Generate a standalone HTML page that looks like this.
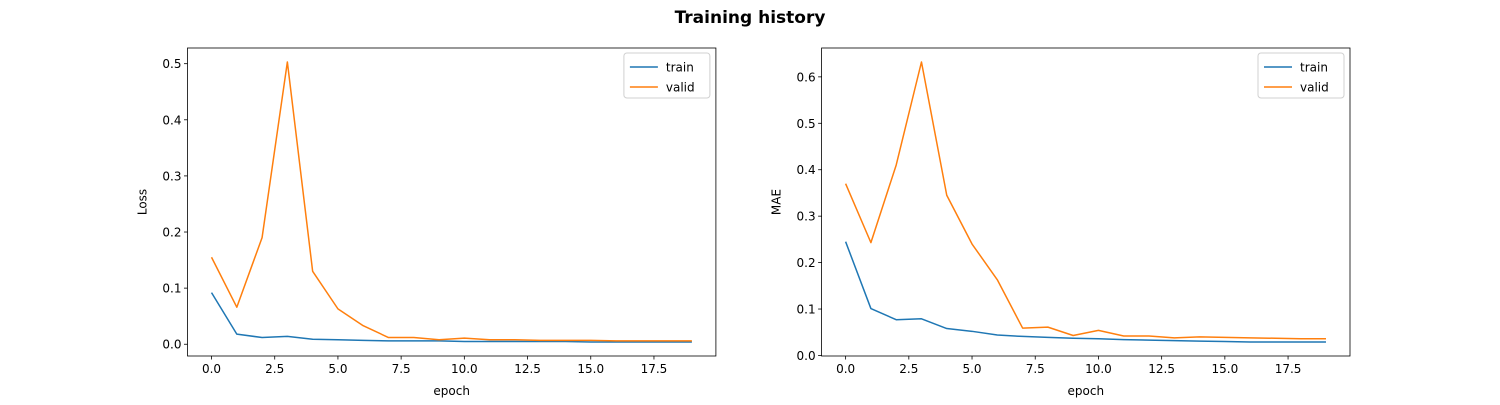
<!DOCTYPE html>
<html><head><meta charset="utf-8"><style>
body{margin:0;background:#fff;font-family:"Liberation Sans","DejaVu Sans",sans-serif}
svg text{font-family:"DejaVu Sans","Liberation Sans",sans-serif;font-size:12px;fill:#000}
</style></head><body>
<svg id="c" width="1500" height="400">
<text x="750" y="23" text-anchor="middle" style="font-size:17px;font-weight:bold">Training history</text>
</svg>
<script>
const epochs=[0,1,2,3,4,5,6,7,8,9,10,11,12,13,14,15,16,17,18,19];
const lossTrain=[0.092,0.018,0.012,0.014,0.009,0.008,0.007,0.006,0.006,0.006,0.005,0.005,0.005,0.005,0.005,0.004,0.004,0.004,0.004,0.004];
const lossValid=[0.155,0.066,0.19,0.503,0.13,0.063,0.033,0.012,0.012,0.008,0.011,0.008,0.008,0.007,0.007,0.007,0.006,0.006,0.006,0.006];
const maeTrain=[0.245,0.101,0.077,0.079,0.058,0.052,0.044,0.041,0.039,0.037,0.036,0.034,0.033,0.032,0.031,0.030,0.029,0.029,0.029,0.029];
const maeValid=[0.37,0.243,0.41,0.632,0.345,0.24,0.163,0.059,0.061,0.043,0.054,0.042,0.042,0.038,0.04,0.039,0.038,0.037,0.036,0.036];
const xTicks=[0,2.5,5,7.5,10,12.5,15,17.5];
const lossTicks=[0,0.1,0.2,0.3,0.4,0.5];
const maeTicks=[0,0.1,0.2,0.3,0.4,0.5,0.6];
const NS='http://www.w3.org/2000/svg';
const svg=document.getElementById('c');
function mk(t,a,p){const e=document.createElementNS(NS,t);for(const k in a)e.setAttribute(k,a[k]);(p||svg).appendChild(e);return e;}
function panel(L,R,ylabel,train,valid,yt,key){
  const T=48,B=356;
  const xmin=-0.95,xmax=19.95;
  const all=train.concat(valid);let lo=Math.min(...all),hi=Math.max(...all);const m=(hi-lo)*0.05;lo-=m;hi+=m;
  const sx=v=>L+(v-xmin)/(xmax-xmin)*(R-L);
  const sy=v=>B-(v-lo)/(hi-lo)*(B-T);
  const g=mk('g',{});
  
  
  xTicks.forEach(t=>{const x=sx(t);mk('line',{x1:x,x2:x,y1:B,y2:B+3.5,stroke:'#000','stroke-width':0.8},g);
    const tx=mk('text',{x:x,y:B+17,'text-anchor':'middle'},g);tx.textContent=t.toFixed(1);
    
    });
  yt.forEach(t=>{const y=sy(t);mk('line',{x1:L-3.5,x2:L,y1:y,y2:y,stroke:'#000','stroke-width':0.8},g);
    const tx=mk('text',{x:L-6,y:y+4.5,'text-anchor':'end'},g);tx.textContent=t.toFixed(1);
    
    });
  const xl=mk('text',{x:(L+R)/2,y:395,'text-anchor':'middle'},g);xl.textContent='epoch';
  
  
  const yl=mk('text',{x:0,y:0,'text-anchor':'middle',transform:`translate(${L-41},${(T+B)/2}) rotate(-90)`},g);yl.textContent=ylabel;
  
  
  [[train,'#1f77b4','train'],[valid,'#ff7f0e','valid']].forEach(([d,c,n])=>{
    const p=mk('polyline',{points:d.map((v,i)=>sx(epochs[i])+','+sy(v)).join(' '),fill:'none',stroke:c,'stroke-width':1.5,'stroke-linejoin':'round'},g);
    
    });
  mk('rect',{x:L,y:T,width:R-L,height:B-T,fill:'none',stroke:'#000','stroke-width':0.8},g);
  const lg=mk('g',{},g);
  
  
  const lx=R-92;
  mk('rect',{x:lx,y:T+5,width:86,height:45,rx:3,fill:'#fff',stroke:'#ccc','stroke-width':1,opacity:0.9},lg);
  [['train','#1f77b4'],['valid','#ff7f0e']].forEach(([n,c],i)=>{const y=T+19+i*20;
    mk('line',{x1:lx+6,x2:lx+34,y1:y,y2:y,stroke:c,'stroke-width':1.5},lg);
    const t=mk('text',{x:lx+42,y:y+4.5},lg);t.textContent=n;
    
    });
}
panel(187.5,715.9,'Loss',lossTrain,lossValid,lossTicks,'loss');
panel(821.6,1350,'MAE',maeTrain,maeValid,maeTicks,'mae');
</script>
</body></html>
